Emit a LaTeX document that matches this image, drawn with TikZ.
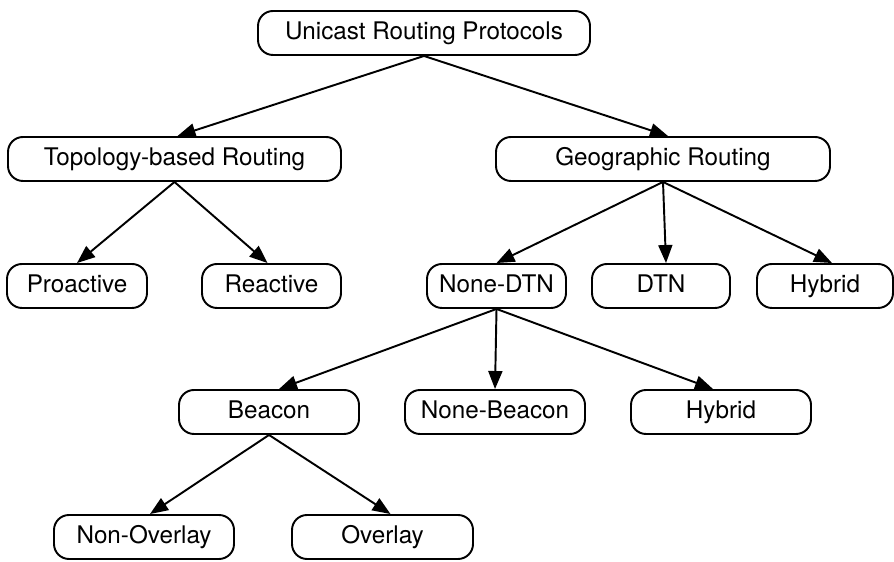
\documentclass[tikz,border=0pt]{standalone}
\usepackage{fontspec}
\setmainfont{TeX Gyre Heros}
\usetikzlibrary{arrows.meta}
\begin{document}
\begin{tikzpicture}[
  proto/.style={shape=rectangle, rounded corners=0.3cm, draw=black, line width=1.1pt, minimum height=0.88cm, inner sep=0pt, text height=1.4ex, text depth=0.05ex, font=\fontsize{13.8}{16}\selectfont},
  link/.style={->, line width=1.1pt, draw=black},
  >={Triangle[length=3.6mm,width=2.8mm]}]
\useasboundingbox (0,0) rectangle (17.88,11.24);
\node[proto, minimum width=6.64cm] (U) at (8.48,10.58) {Unicast Routing Protocols};
\node[proto, minimum width=6.66cm] (T) at (3.49,8.06) {Topology-based Routing};
\node[proto, minimum width=6.68cm] (G) at (13.26,8.06) {Geographic Routing};
\node[proto, minimum width=2.80cm] (P) at (1.54,5.52) {Proactive};
\node[proto, minimum width=2.78cm] (R) at (5.43,5.52) {Reactive};
\node[proto, minimum width=2.78cm] (N) at (9.93,5.52) {None-DTN};
\node[proto, minimum width=2.76cm] (D) at (13.22,5.52) {DTN};
\node[proto, minimum width=2.72cm] (H) at (16.50,5.52) {Hybrid};
\node[proto, minimum width=3.60cm] (B) at (5.38,3.00) {Beacon};
\node[proto, minimum width=3.60cm] (NB) at (9.90,3.00) {None-Beacon};
\node[proto, minimum width=3.60cm] (HB) at (14.42,3.00) {Hybrid};
\node[proto, minimum width=3.60cm] (NO) at (2.88,0.50) {Non-Overlay};
\node[proto, minimum width=3.62cm] (O) at (7.65,0.50) {Overlay};
\draw [link] (U.south) -- ([xshift=0.06cm]T.north);
\draw [link] (U.south) -- ([xshift=0.1cm]G.north);
\draw [link] (T.south) -- (P.north);
\draw [link] (T.south) -- ([xshift=-0.08cm]R.north);
\draw [link] (G.south) -- (N.north);
\draw [link] (G.south) -- ([xshift=0.1cm]D.north);
\draw [link] (G.south) -- ([xshift=0.14cm]H.north);
\draw [link] (N.south) -- ([xshift=0.2cm]B.north);
\draw [link] (N.south) -- (NB.north);
\draw [link] (N.south) -- ([xshift=-0.16cm]HB.north);
\draw [link] (B.south) -- ([xshift=0.12cm]NO.north);
\draw [link] (B.south) -- ([xshift=0.16cm]O.north);
\end{tikzpicture}
\end{document}
